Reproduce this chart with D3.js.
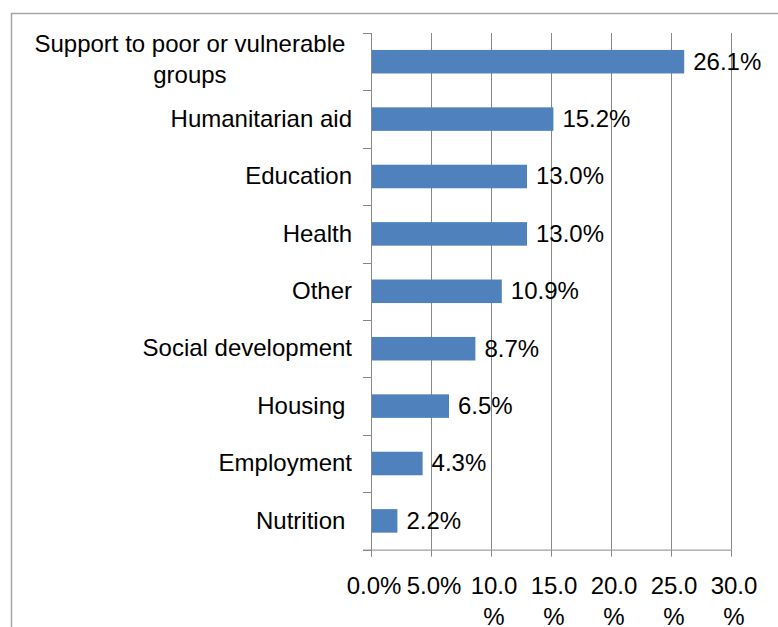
<!DOCTYPE html>
<html>
<head>
<meta charset="utf-8">
<script src="https://cdn.jsdelivr.net/npm/d3@7"></script>
<style>
  html, body { margin: 0; padding: 0; background: #fff; }
  svg { display: block; font-family: "Liberation Sans", Arial, sans-serif; }
  text { white-space: pre; }
</style>
</head>
<body>
<svg id="chart" width="778" height="627"></svg>
<script>
// Share of projects by sector (%)
const categories = [
  "Support to poor or vulnerable groups",
  "Humanitarian aid",
  "Education",
  "Health",
  "Other",
  "Social development",
  "Housing ",
  "Employment",
  "Nutrition "
];
const values = [26.1, 15.2, 13.0, 13.0, 10.9, 8.7, 6.5, 4.3, 2.2];
const tickValues = [0, 5, 10, 15, 20, 25, 30];
const tickLabels = ["0.0%", "5.0%", "10.0\n%", "15.0\n%", "20.0\n%", "25.0\n%", "30.0\n%"];

const svg = d3.select("#chart");
const W = 778, H = 627;
const plot = { left: 371, right: 731, top: 33, bottom: 549.6 };
const gridColor = "#888888";
const fontSize = 24;

// outer chart frame (left and top edges visible)
svg.append("path")
  .attr("d", `M11.5,${H} V13.5 H${W}`)
  .attr("fill", "none").attr("stroke", "#a6a6a6").attr("stroke-width", 1.5);

const x = d3.scaleLinear().domain([0, 30]).range([plot.left, plot.right]);
const y = d3.scaleBand().domain(categories).range([plot.top, plot.bottom]).padding(0);
const barFrac = 0.41;

// vertical gridlines
svg.append("g").selectAll("line").data(tickValues.slice(1)).join("line")
  .attr("x1", d => Math.round(x(d)) + 0.5).attr("x2", d => Math.round(x(d)) + 0.5)
  .attr("y1", plot.top).attr("y2", plot.bottom)
  .attr("stroke", gridColor).attr("stroke-width", 1);

// bars
svg.append("g").selectAll("rect").data(values).join("rect")
  .attr("x", x(0))
  .attr("y", (d, i) => y(categories[i]) + y.bandwidth() * (1 - barFrac) / 2)
  .attr("width", d => x(d) - x(0))
  .attr("height", y.bandwidth() * barFrac)
  .attr("fill", "#4f81bd");

// x axis
const xAxis = d3.axisBottom(x).tickValues(tickValues).tickFormat("").tickSizeInner(7).tickSizeOuter(0);
const gx = svg.append("g").attr("transform", `translate(0,${plot.bottom})`).call(xAxis);
gx.select(".domain").attr("stroke", gridColor).attr("d", `M${plot.left - 8},0.5H${plot.right}`);
gx.selectAll(".tick line").attr("stroke", gridColor);
gx.selectAll(".tick").each(function(d, i) {
  const lines = tickLabels[i].split("\n");
  const t = d3.select(this).append("text")
    .attr("fill", "#000").attr("font-size", fontSize).attr("text-anchor", "middle")
    .attr("font-family", "Liberation Sans, Arial, sans-serif");
  lines.forEach((ln, k) => {
    t.append("tspan").attr("x", 2.5).attr("y", 44 + k * 31).text(ln);
  });
});

// y axis: category boundaries as ticks
const boundaries = d3.range(categories.length + 1).map(i => plot.top + i * y.step());
const gy = svg.append("g");
gy.append("line")
  .attr("x1", plot.left + 0.5).attr("x2", plot.left + 0.5)
  .attr("y1", plot.top).attr("y2", plot.bottom + 7)
  .attr("stroke", gridColor);
gy.selectAll("line.tk").data(boundaries).join("line").attr("class", "tk")
  .attr("x1", plot.left - 8).attr("x2", plot.left)
  .attr("y1", d => Math.round(d) + 0.5).attr("y2", d => Math.round(d) + 0.5)
  .attr("stroke", gridColor);

// category labels (wrapped when too wide, lines centred like a text box)
const labelRight = 352;
const maxWidth = 330;
const labels = svg.append("g").attr("font-size", fontSize).attr("fill", "#000");
categories.forEach((c, i) => {
  const cy = y(c) + y.bandwidth() / 2;
  const probe = labels.append("text").text(c);
  const full = probe.node().getComputedTextLength();
  probe.remove();
  if (full <= maxWidth) {
    labels.append("text")
      .attr("x", labelRight).attr("y", cy).attr("dy", "0.32em")
      .attr("text-anchor", "end").text(c);
  } else {
    // greedy word wrap
    const words = c.split(" ");
    const lines = [];
    let cur = "";
    const meas = labels.append("text");
    words.forEach(w => {
      const test = cur ? cur + " " + w : w;
      meas.text(test);
      if (meas.node().getComputedTextLength() > maxWidth && cur) { lines.push(cur); cur = w; }
      else cur = test;
    });
    lines.push(cur);
    meas.text(lines[0] + "  ");
    const widest = meas.node().getComputedTextLength();
    meas.remove();
    const cx = labelRight - widest / 2;
    const lh = 31;
    const t = labels.append("text").attr("text-anchor", "middle");
    lines.forEach((ln, k) => {
      t.append("tspan").attr("x", cx)
        .attr("y", cy - 2 + (k - (lines.length - 1) / 2) * lh).attr("dy", "0.32em").text(ln);
    });
  }
});

// value labels
svg.append("g").attr("font-size", fontSize).attr("fill", "#000")
  .selectAll("text").data(values).join("text")
  .attr("x", d => x(d) + 9)
  .attr("y", (d, i) => y(categories[i]) + y.bandwidth() / 2)
  .attr("dy", "0.33em")
  .text(d => d.toFixed(1) + "%");
</script>
</body>
</html>
